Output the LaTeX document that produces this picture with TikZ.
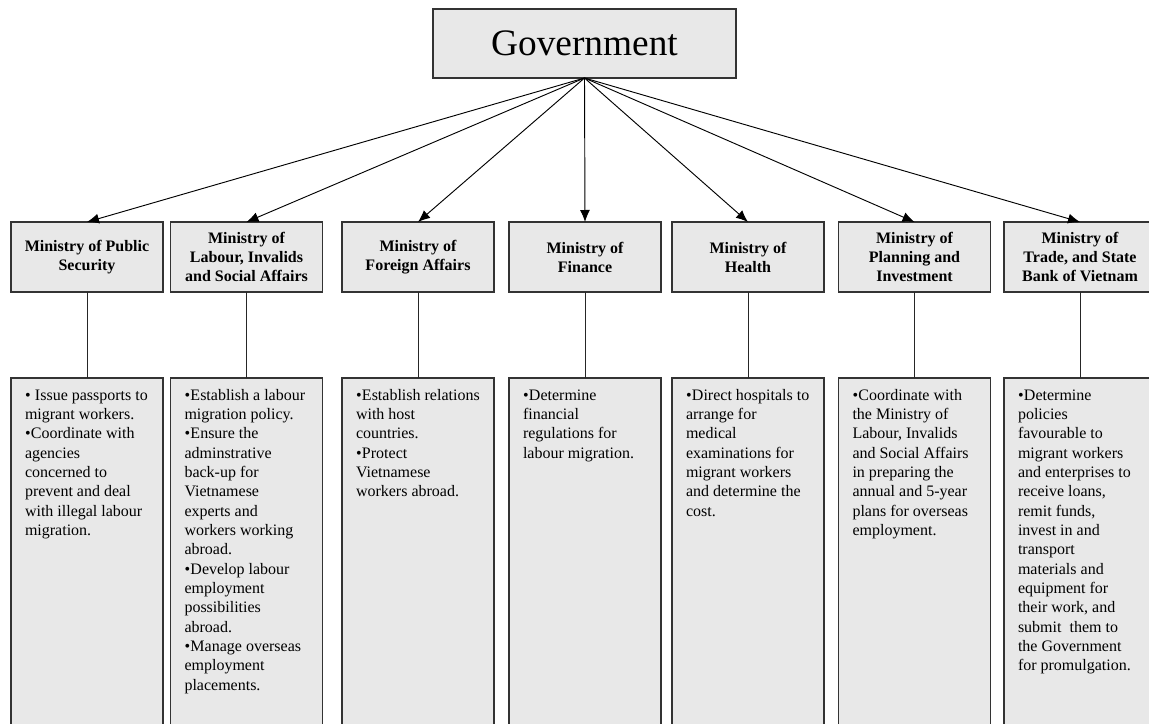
\documentclass[tikz,border=0pt]{standalone}
\usepackage{fontspec}
\setmainfont{Liberation Serif}
\usetikzlibrary{arrows.meta}
\newdimen\PX \PX=0.75pt
\definecolor{boxfill}{HTML}{E8E8E8}
\definecolor{boxline}{HTML}{333333}
\newcommand\itm{\par\hangindent=6\PX\hangafter=1\noindent\strut\makebox[6\PX][l]{\textbullet}}
\newcommand\desc[1]{\parbox[t][400\PX][t]{152\PX}{\fontsize{12pt}{14.5pt}\selectfont\raggedright\leftskip=14\PX #1}}
\tikzset{
  govbox/.style={draw=boxline, line width=0.9pt, fill=boxfill, minimum width=303\PX, minimum height=69\PX,
    inner sep=0pt, outer sep=0pt, font=\fontsize{28pt}{32pt}\selectfont},
  minbox/.style={draw=boxline, line width=0.8pt, fill=boxfill, minimum width=152\PX, minimum height=70\PX,
    inner sep=0pt, outer sep=0pt, align=center, font=\bfseries\fontsize{12pt}{14.25pt}\selectfont},
  descbox/.style={draw=boxline, line width=0.8pt, fill=boxfill, anchor=north, inner xsep=0pt,
    inner ysep=8.5\PX, outer sep=0pt},
  arr/.style={-{Latex[length=9pt,width=7.5pt]}, line width=0.7pt, draw=black},
  link/.style={line width=0.7pt, draw=black!85},
}
\begin{document}
\begin{tikzpicture}[x=0.75pt, y=-0.75pt]
\useasboundingbox (0,0) rectangle (1149,724);

\node[govbox] (gov) at (584.5,43.5) {Government};

\node[minbox] (m1) at (87,257)    {Ministry of Public\\Security};
\node[minbox] (m2) at (246.5,257) {Ministry of\\Labour, Invalids\\and Social Affairs};
\node[minbox] (m3) at (418,257)   {Ministry of\\Foreign Affairs};
\node[minbox] (m4) at (585,257)   {Ministry of\\Finance};
\node[minbox] (m5) at (748,257)   {Ministry of\\Health};
\node[minbox] (m6) at (914.5,257) {Ministry of\\Planning and\\Investment};
\node[minbox] (m7) at (1080,257)  {Ministry of\\Trade, and State\\Bank of Vietnam};

\node[descbox] (d1) at (87,378) {\desc{%
  \itm\hspace{4\PX}Issue passports to\\migrant workers.
  \itm Coordinate with\\agencies\\concerned to\\prevent and deal\\with illegal labour\\migration.}};
\node[descbox] (d2) at (246.5,378) {\desc{%
  \itm Establish a labour\\migration policy.
  \itm Ensure the\\adminstrative\\back-up for\\Vietnamese\\experts and\\workers working\\abroad.
  \itm Develop labour\\employment\\possibilities\\abroad.
  \itm Manage overseas\\employment\\placements.}};
\node[descbox] (d3) at (418,378) {\desc{%
  \itm Establish relations\\with host\\countries.
  \itm Protect\\Vietnamese\\workers abroad.}};
\node[descbox] (d4) at (585,378) {\desc{%
  \itm Determine\\financial\\regulations for\\labour migration.}};
\node[descbox] (d5) at (748,378) {\desc{%
  \itm Direct hospitals to\\arrange for\\medical\\examinations for\\migrant workers\\and determine the\\cost.}};
\node[descbox] (d6) at (914.5,378) {\desc{%
  \itm Coordinate with\\the Ministry of\\Labour, Invalids\\and Social Affairs\\in preparing the\\annual and 5-year\\plans for overseas\\employment.}};
\node[descbox] (d7) at (1080,378) {\desc{%
  \itm Determine\\policies\\favourable to\\migrant workers\\and enterprises to\\receive loans,\\remit funds,\\invest in and\\transport\\materials and\\equipment for\\their work, and\\submit\ \ them to\\the Government\\for promulgation.}};

\foreach \i in {1,...,7} {
  \draw[arr] (gov.south) -- (m\i.north);
  \draw[link] (m\i.south) -- (d\i.north);
}
\end{tikzpicture}
\end{document}
